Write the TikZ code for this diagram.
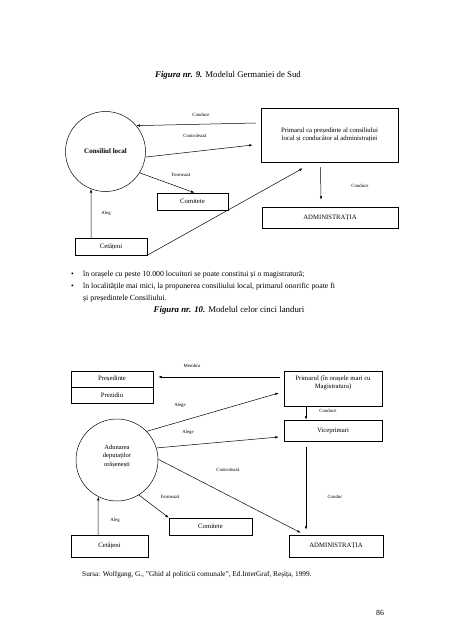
\documentclass[tikz,border=0pt]{standalone}
\usepackage{fontspec}
\setmainfont{Liberation Serif}
\usetikzlibrary{arrows.meta}
\begin{document}
\begin{tikzpicture}[x=1pt,y=-1pt,
  box/.style={draw, line width=0.5pt, inner sep=0pt, align=center, font=\fontsize{6.7}{8.5}\selectfont},
  boxtext/.style={inner sep=0pt, align=center, font=\fontsize{6.7}{8.5}\selectfont},
  lbl/.style={font=\fontsize{4.8}{5.5}\selectfont, inner sep=0pt},
  arr/.style={line width=0.5pt, -{Latex[length=3.5pt,width=2.4pt]}},
  circ/.style={draw, circle, line width=0.5pt, inner sep=0pt, align=center},
  body/.style={font=\fontsize{7.8}{9}\selectfont, inner sep=0pt, anchor=west},
  ttl/.style={font=\fontsize{8.8}{10}\selectfont, inner sep=0pt}]
\useasboundingbox[fill=white] (0,0) rectangle (452,640);

% ---------- Figure 9 ----------
\node[ttl] (t9) at (228,75) {\textbf{\textit{Figura nr. 9.}} Modelul Germaniei de Sud};

\node[circ, minimum size=80pt, font=\bfseries\fontsize{7}{8}\selectfont] (cons) at (105.5,151.5) {Consiliul local};
\node[box, minimum width=137pt, minimum height=54pt] (prim1) at (329.5,135) {Primarul ca președinte al consiliului\\local și conducător al administrației};
\node[box, minimum width=71pt, minimum height=17pt] (com1) at (192.5,201.5) {Comitete};
\node[box, minimum width=136pt, minimum height=21pt] (adm1) at (330,217.5) {ADMINISTRAȚIA};
\node[box, minimum width=72pt, minimum height=17pt] (cet1) at (111,246.5) {Cetățeni};

\draw[arr] ([shift={(-5,-12)}]prim1.west) -- (cons.40);
\draw[arr] (cons.-8) -- ([shift={(-8,10)}]prim1.west);
\draw[arr] (cons.-32) -- ([xshift=2]com1.north);
\draw[arr] ([shift={(-9,5)}]prim1.south) -- ([shift={(-9,-7)}]adm1.north);
\draw[arr] ([xshift=-20]cet1.north) -- (cons.-111);
\draw[arr] (cet1.south east) -- ([shift={(42,6)}]prim1.south west);

\node[lbl] (l1) at (201,115) {Conduce};
\node[lbl] (l2) at (195,136) {Controlează};
\node[lbl] (l3) at (181,175) {Formează};
\node[lbl] (l4) at (360,186) {Conduce};
\node[lbl] (l5) at (106,213) {Aleg};

% ---------- Text ----------
\node[body] (b1) at (71,275) {\textbullet};
\node[body] (x1) at (83,275) {în orașele cu peste 10.000 locuitori se poate constitui și o magistratură;};
\node[body] (b2) at (71,287) {\textbullet};
\node[body] (x2) at (83,287) {în localitățile mai mici, la propunerea consiliului local, primarul onorific poate fi};
\node[body] (x3) at (83,298.5) {și președintele Consiliului.};
\node[ttl] (t10) at (229,310) {\textbf{\textit{Figura nr. 10.}} Modelul celor cinci landuri};

% ---------- Figure 10 ----------
\node[box, minimum width=82pt, minimum height=16pt] (pres) at (112,379) {Președinte};
\node[box, minimum width=82pt, minimum height=16pt] (prez) at (112,395) {Prezidiu};
\node[box, minimum width=98pt, minimum height=35pt] (prim2) at (333,388.5) {};
\node[boxtext] (prim2t) at (333,383) {Primarul (în orașele mari cu\\Magistratura)};
\node[box, minimum width=98pt, minimum height=21pt] (vice) at (333,430.5) {Viceprimari};
\node[circ, minimum size=82pt] (adun) at (117,460) {};
\node[boxtext, font=\fontsize{6.5}{8.5}\selectfont] (adunt) at (117,456) {Adunarea\\deputaților\\orășenești};
\node[box, minimum width=83pt, minimum height=17pt] (com2) at (210.5,526.5) {Comitete};
\node[box, minimum width=94pt, minimum height=22pt] (adm2) at (336,546) {ADMINISTRAȚIA};
\node[box, minimum width=77pt, minimum height=22pt] (cet2) at (109.5,546) {Cetățeni};

\draw[arr] ([shift={(-4,-11.5)}]prim2.west) -- ([shift={(5,-2)}]pres.east);
\draw[arr] (adun.44) -- ([shift={(-5,4.5)}]prim2.west);
\draw[arr] ([xshift=-27]prim2.south) -- ([xshift=-27]vice.north);
\draw[arr] (adun.17) -- ([shift={(-5,6.5)}]vice.west);
\draw[arr] (adun.1) -- ([shift={(12,-2)}]adm2.north west);
\draw[arr] (adun.-58) -- (com2.north west);
\draw[arr] ([shift={(-27,6)}]vice.south) -- ([shift={(-30,-5)}]adm2.north);
\draw[arr] ([xshift=-11.5]cet2.north) -- (adun.-117);

\node[lbl] (m1) at (192,366) {Membru};
\node[lbl] (m2) at (180,405) {Alege};
\node[lbl] (m3) at (328,411) {Conduce};
\node[lbl] (m4) at (188,432) {Alege};
\node[lbl] (m5) at (228,470) {Controlează};
\node[lbl] (m6) at (170,497) {Formează};
\node[lbl] (m7) at (335,497) {Conduc};
\node[lbl] (m8) at (115,520) {Aleg};

\node[font=\fontsize{7.3}{8}\selectfont, inner sep=0pt, anchor=west] (src) at (82,575) {Sursa: Wolfgang, G., "Ghid al politicii comunale", Ed.InterGraf, Reșița, 1999.};
\node[font=\fontsize{7.8}{9}\selectfont, inner sep=0pt] (pg) at (380,613) {86};
\end{tikzpicture}
\end{document}
